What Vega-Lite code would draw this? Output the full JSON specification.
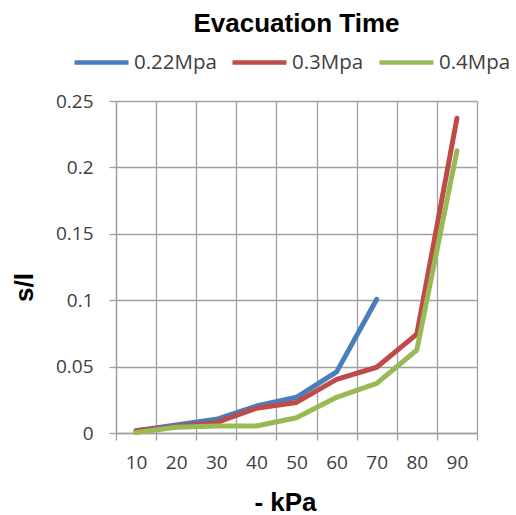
{
  "$schema": "https://vega.github.io/schema/vega-lite/v6.json",
  "width": 361,
  "height": 332,
  "autosize": {"type": "none"},
  "padding": {"left": 116, "top": 101, "right": 39, "bottom": 82},
  "background": "white",
  "title": {
    "text": "Evacuation Time",
    "font": "Liberation Sans",
    "fontSize": 26,
    "fontWeight": "bold",
    "color": "black",
    "anchor": "middle",
    "frame": "group",
    "baseline": "alphabetic",
    "offset": 20,
    "dy": 45
  },
  "config": {
    "view": {"stroke": null},
    "font": "Open Sans"
  },
  "data": {
    "values": [
      {"kPa": 10, "series": "0.22Mpa", "value": 0.0017},
      {"kPa": 20, "series": "0.22Mpa", "value": 0.006},
      {"kPa": 30, "series": "0.22Mpa", "value": 0.0103},
      {"kPa": 40, "series": "0.22Mpa", "value": 0.0203},
      {"kPa": 50, "series": "0.22Mpa", "value": 0.0269},
      {"kPa": 60, "series": "0.22Mpa", "value": 0.046},
      {"kPa": 70, "series": "0.22Mpa", "value": 0.1007},
      {"kPa": 10, "series": "0.3Mpa", "value": 0.0017},
      {"kPa": 20, "series": "0.3Mpa", "value": 0.0048},
      {"kPa": 30, "series": "0.3Mpa", "value": 0.0078},
      {"kPa": 40, "series": "0.3Mpa", "value": 0.0186},
      {"kPa": 50, "series": "0.3Mpa", "value": 0.023},
      {"kPa": 60, "series": "0.3Mpa", "value": 0.0404},
      {"kPa": 70, "series": "0.3Mpa", "value": 0.0495},
      {"kPa": 80, "series": "0.3Mpa", "value": 0.0745},
      {"kPa": 90, "series": "0.3Mpa", "value": 0.237},
      {"kPa": 10, "series": "0.4Mpa", "value": 0.0003},
      {"kPa": 20, "series": "0.4Mpa", "value": 0.0043},
      {"kPa": 30, "series": "0.4Mpa", "value": 0.0053},
      {"kPa": 40, "series": "0.4Mpa", "value": 0.0053},
      {"kPa": 50, "series": "0.4Mpa", "value": 0.0115},
      {"kPa": 60, "series": "0.4Mpa", "value": 0.0269},
      {"kPa": 70, "series": "0.4Mpa", "value": 0.0374},
      {"kPa": 80, "series": "0.4Mpa", "value": 0.0625},
      {"kPa": 90, "series": "0.4Mpa", "value": 0.2126}
    ]
  },
  "mark": {"type": "line", "strokeWidth": 5, "strokeCap": "round", "strokeJoin": "round"},
  "encoding": {
    "x": {
      "field": "kPa",
      "type": "ordinal",
      "bandPosition": 0.5,
      "scale": {"type": "band", "paddingInner": 0, "paddingOuter": 0},
      "axis": {
        "title": "- kPa",
        "titleFont": "Liberation Sans",
        "titleFontSize": 26,
        "titleFontWeight": "bold",
        "titleColor": "black",
        "titleBaseline": "alphabetic",
        "titleX": 169,
        "titleY": 77,
        "labelAngle": 0,
        "labelFontSize": 19,
        "labelColor": "#404040",
        "labelPadding": 13,
        "tickBand": "extent",
        "grid": true,
        "gridColor": "#a0a0a0",
        "gridWidth": 1.3,
        "tickColor": "#a0a0a0",
        "tickWidth": 1.3,
        "tickSize": 7,
        "domainColor": "#a0a0a0",
        "domainWidth": 1.3
      }
    },
    "y": {
      "field": "value",
      "type": "quantitative",
      "scale": {"domain": [0, 0.25], "nice": false},
      "axis": {
        "title": "s/l",
        "titleFont": "Liberation Sans",
        "titleFontSize": 26,
        "titleFontWeight": "bold",
        "titleColor": "black",
        "titleAngle": -90,
        "titleAlign": "center",
        "titleBaseline": "alphabetic",
        "titleX": -84,
        "titleY": 186,
        "values": [0, 0.05, 0.1, 0.15, 0.2, 0.25],
        "format": "~g",
        "labelFontSize": 19,
        "labelColor": "#404040",
        "labelPadding": 16,
        "grid": true,
        "gridColor": "#a0a0a0",
        "gridWidth": 1.3,
        "tickColor": "#a0a0a0",
        "tickWidth": 1.3,
        "tickSize": 7,
        "domainColor": "#a0a0a0",
        "domainWidth": 1.3
      }
    },
    "color": {
      "field": "series",
      "type": "nominal",
      "scale": {"domain": ["0.22Mpa", "0.3Mpa", "0.4Mpa"], "range": ["#4A7EBB", "#BE4B48", "#98B954"]},
      "legend": {
        "title": null,
        "orient": "none",
        "direction": "horizontal",
        "legendX": -44,
        "legendY": -68,
        "symbolType": "stroke",
        "symbolSize": 2916,
        "symbolStrokeWidth": 4.5,
        "labelFontSize": 20.5,
        "labelColor": "#404040",
        "labelOffset": 3,
        "columnPadding": 6
      }
    }
  }
}
